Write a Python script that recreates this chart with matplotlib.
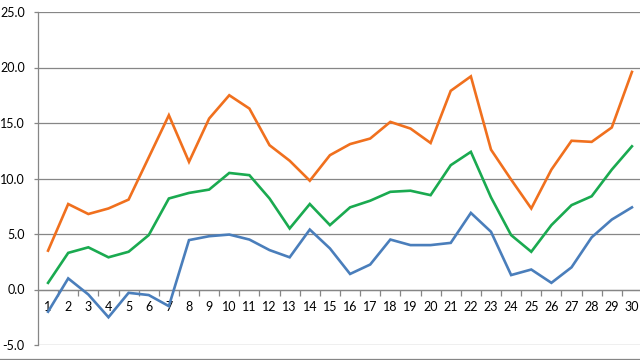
import matplotlib
matplotlib.use("Agg")
import matplotlib.pyplot as plt
from matplotlib.lines import Line2D
from matplotlib.ticker import FixedLocator, FormatStrFormatter

categories = list(range(1, 31))
orange = [3.5, 7.7, 6.8, 7.3, 8.1, 11.9, 15.7, 11.5, 15.4, 17.5, 16.3, 13.0, 11.6, 9.8, 12.1,
          13.1, 13.6, 15.1, 14.5, 13.2, 17.9, 19.2, 12.6, 9.9, 7.3, 10.8, 13.4, 13.3, 14.6, 19.6]
green = [0.6, 3.3, 3.8, 2.9, 3.4, 4.9, 8.2, 8.7, 9.0, 10.5, 10.3, 8.2, 5.5, 7.7, 5.8,
         7.4, 8.0, 8.8, 8.9, 8.5, 11.2, 12.4, 8.3, 4.9, 3.4, 5.8, 7.6, 8.4, 10.8, 12.9]
blue = [-2.0, 1.0, -0.45, -2.5, -0.3, -0.5, -1.5, 4.45, 4.8, 4.95, 4.5, 3.55, 2.9, 5.4, 3.7,
        1.4, 2.25, 4.5, 4.0, 4.0, 4.2, 6.9, 5.2, 1.3, 1.8, 0.6, 2.0, 4.7, 6.3, 7.4]
y_ticks = [-5, 0, 5, 10, 15, 20, 25]

plt.rcParams['font.family'] = ['Lato', 'DejaVu Sans']

fig = plt.figure(figsize=(6.4, 3.6), dpi=100)
ax = fig.add_axes([38/640, 1-345/360, 604/640, 333/360])

grid_c = '#868686'
for v in y_ticks:
    ax.axhline(v, color=grid_c, lw=0.9, zorder=1)

ax.plot(categories, blue, color='#4A7EBB', lw=1.9, zorder=3, solid_joinstyle='miter')
ax.plot(categories, orange, color='#F0701E', lw=1.9, zorder=3, solid_joinstyle='miter')
ax.plot(categories, green, color='#1AAA50', lw=1.9, zorder=3, solid_joinstyle='miter')

ax.set_xlim(0.5, 30.5)
ax.set_ylim(-5, 25)

for s in ['top', 'right']:
    ax.spines[s].set_visible(False)
ax.spines['left'].set_color(grid_c)
ax.spines['left'].set_linewidth(0.9)
ax.spines['bottom'].set_position(('data', 0))
ax.spines['bottom'].set_color(grid_c)
ax.spines['bottom'].set_linewidth(0.9)

ax.set_yticks(y_ticks)
ax.yaxis.set_major_formatter(FormatStrFormatter('%.1f'))
ax.tick_params(axis='y', length=3, width=0.9, color=grid_c, direction='out',
               pad=6.5, labelsize=9, labelcolor='black')

ax.set_xticks(categories)
ax.set_xticklabels([str(c) for c in categories])
ax.xaxis.set_minor_locator(FixedLocator([c + 0.5 for c in categories]))
ax.tick_params(axis='x', which='major', length=0, pad=8, labelsize=9, labelcolor='black')
ax.tick_params(axis='x', which='minor', length=4, width=0.9, color=grid_c, direction='out')

fig.add_artist(Line2D([0, 1], [1-358.5/360, 1-358.5/360], color=grid_c, lw=0.9,
                      transform=fig.transFigure))

fig.savefig('out.png', dpi=100)
